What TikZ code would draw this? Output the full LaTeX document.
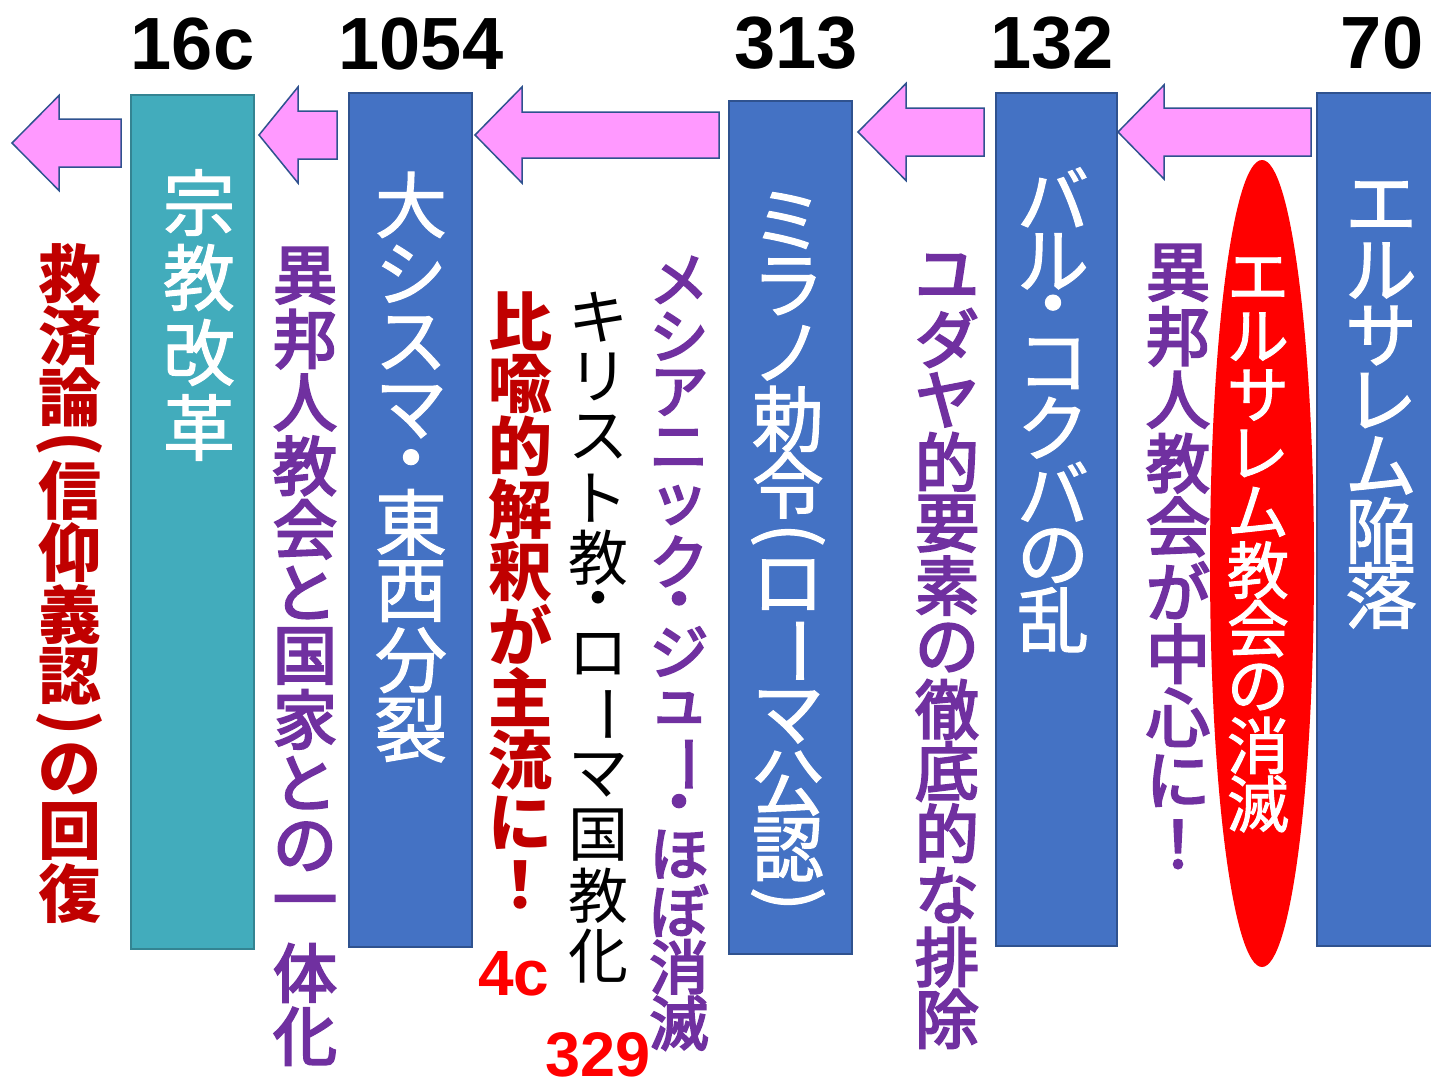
\documentclass[tikz,border=0pt]{standalone}
\usepackage{fontspec}
\usepackage{graphicx}
\usetikzlibrary{shapes.geometric}
\setmainfont{Liberation Sans}
\newfontfamily\jp{Noto Sans CJK JP}
\newfontfamily\jpw{Noto Sans CJK JP}[FakeBold=1.5]
\newfontfamily\jpm{Noto Sans CJK JP}[FakeBold=3.5]
\definecolor{boxblue}{RGB}{68,114,196}
\definecolor{boxborder}{RGB}{47,82,143}
\definecolor{tealbox}{RGB}{66,172,188}
\definecolor{tealborder}{RGB}{52,132,146}
\definecolor{pinkarrow}{RGB}{255,153,255}
\definecolor{darkred}{RGB}{192,0,0}
\definecolor{purp}{RGB}{112,48,160}
\definecolor{brightred}{RGB}{255,0,0}
% ---- vertical (tategaki) text ----
\newlength\vpitch
\newsavebox\vsbox
\def\vcolend{VCOLENDMARK}
\def\vLP{VLPMARK}\def\vRP{VRPMARK}\def\vMD{VMDMARK}\def\vVL{VVLMARK}
\newcommand\vslot[2]{\sbox\vsbox{#2}\vbox to #1\vpitch{\vss\hbox to 1.3em{\hss\usebox\vsbox\hss}\vss}}
\def\vcolloop#1{%
  \ifx#1\vcolend\else
    \ifx#1\vLP\vslot{.5}{\rotatebox{-90}{(}}\else
    \ifx#1\vRP\vslot{.5}{\rotatebox{-90}{)}}\else
    \ifx#1\vMD\vslot{.6}{・}\else
    \ifx#1\vVL\vslot{1}{\rotatebox{-90}{ー}}\else
    \vslot{1}{#1}\fi\fi\fi\fi
    \expandafter\vcolloop
  \fi}
\newcommand\vcol[3]{\fontsize{#1}{#1}\selectfont\setlength\vpitch{#2pt}\vbox{\offinterlineskip\vcolloop#3\vcolend}}
\begin{document}
\begin{tikzpicture}[x=1pt,y=-1pt,
  bluebox/.style={draw=boxborder,line width=1.8pt,fill=boxblue,inner sep=0,minimum width=123pt,minimum height=853pt},
  tealrect/.style={draw=tealborder,line width=1.8pt,fill=tealbox,inner sep=0,minimum width=123pt,minimum height=854pt},
  parrowstyle/.style={draw=boxborder,line width=1.5pt,fill=pinkarrow,line join=miter},
  vt/.style={inner sep=0,anchor=center},
  yearlabel/.style={inner sep=0,anchor=base,font=\fontsize{74}{74}\selectfont\bfseries},
  smallyear/.style={inner sep=0,anchor=base,text=brightred,font=\fontsize{64}{64}\selectfont\bfseries}]
\useasboundingbox (0,0) rectangle (1431,1081);
\fill[white] (0,0) rectangle (1431,1081);
% boxes
\node[tealrect] (b16) at (192.5,522) {};
\node[bluebox,minimum height=854pt] (b1054) at (410.5,520) {};
\node[bluebox] (b313) at (790.5,527.5) {};
\node[bluebox,minimum width=121pt] (b132) at (1056.5,519.5) {};
\node[bluebox] (b70) at (1378.5,519.5) {};
% red ellipse
\node[ellipse,fill=brightred,inner sep=0,minimum width=104pt,minimum height=807pt] (ell) at (1262,563.5) {};
% block arrows: tip x, centre y, head base x, tail x, head half, body half
\newcommand\blockarrow[6]{\draw[parrowstyle] (#1,#2) -- (#3,#2-#5) -- (#3,#2-#6) -- (#4,#2-#6) -- (#4,#2+#6) -- (#3,#2+#6) -- (#3,#2+#5) -- cycle;}
\blockarrow{12}{143}{59}{121}{47.5}{24}
\blockarrow{259}{135}{298}{337}{48}{24}
\blockarrow{475}{135}{522}{719}{48}{23}
\blockarrow{858}{132}{906}{984}{48.5}{24}
\blockarrow{1118}{132}{1164}{1311}{47}{24}
% years
\node[yearlabel] (y16) at (192.5,70) {16c};
\node[yearlabel] (y1054) at (421,70) {1054};
\node[yearlabel] (y313) at (796,68) {313};
\node[yearlabel] (y132) at (1052,68) {132};
\node[yearlabel] (y70) at (1382,68) {70};
\node[smallyear] (y4c) at (514,995) {4c};
\node[smallyear,font=\fontsize{63}{63}\selectfont\bfseries] (y329) at (598,1076) {329};
% vertical texts
\node[vt,text=darkred,font=\jp\bfseries] (c1) at (70,583.5) {\vcol{63}{62}{救済論\vLP 信仰義認\vRP の回復}};
\node[vt,text=white,font=\jpw] (c2) at (199,315) {\vcol{72}{75}{宗教改革}};
\node[vt,text=purp,font=\jpm] (c3) at (305,656) {\vcol{64}{63.4}{異邦人教会と国家との一体化}};
\node[vt,text=white,font=\jpw] (c4) at (411,467) {\vcol{72}{69}{大シスマ\vMD 東西分裂}};
\node[vt,text=darkred,font=\jp\bfseries] (c5) at (520,603) {\vcol{64}{62.7}{比喩的解釈が主流に！}};
\node[vt,text=black,font=\jp] (c6) at (598,636.5) {\vcol{60}{60.3}{キリスト教\vMD ロ\vVL マ国教化}};
\node[vt,text=purp,font=\jpm] (c7) at (679,651.5) {\vcol{59}{56.3}{メシアニック\vMD ジュ\vVL \vMD ほぼ消滅}};
\node[vt,text=white,font=\jpw] (c8) at (788,551.5) {\vcol{72}{66.2}{ミラノ勅令\vLP ロ\vVL マ公認\vRP}};
\node[vt,text=purp,font=\jpm] (c9) at (947,647.5) {\vcol{64}{61.9}{ユダヤ的要素の徹底的な排除}};
\node[vt,text=white,font=\jpw] (c10) at (1053,408.5) {\vcol{72}{64}{バル\vMD コクバの乱}};
\node[vt,text=purp,font=\jpm] (c11) at (1178,558.5) {\vcol{64}{63.5}{異邦人教会が中心に！}};
\node[vt,text=white,font=\jpw] (c12) at (1258,541) {\vcol{62}{58.4}{エルサレム教会の消滅}};
\node[vt,text=white,font=\jpw] (c13) at (1381,400.5) {\vcol{72}{65}{エルサレム陥落}};
\end{tikzpicture}
\end{document}
